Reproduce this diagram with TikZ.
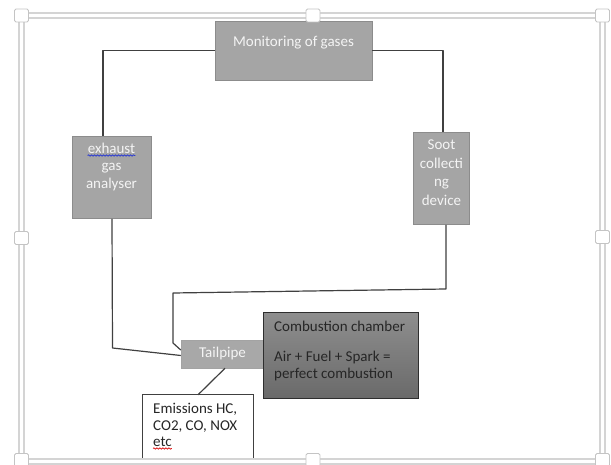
\documentclass[tikz,border=0pt]{standalone}
\usepackage{fontspec}
\setmainfont{Carlito}
\usetikzlibrary{calc,decorations.pathmorphing}
\definecolor{boxgray}{HTML}{A5A5A5}
\definecolor{boxedge}{HTML}{8C8C8C}
\definecolor{tailgray}{HTML}{A8A8A8}
\definecolor{wirecol}{HTML}{404040}
\definecolor{framegray}{HTML}{D4D4D4}
\definecolor{handleedge}{HTML}{C4C4C4}
\definecolor{combtop}{HTML}{8E8E8E}
\definecolor{combbot}{HTML}{6A6A6A}
\definecolor{combedge}{HTML}{2E2E2E}
\definecolor{textwhite}{HTML}{F4F4F4}
\definecolor{textdark}{HTML}{262626}
\definecolor{spellblue}{HTML}{2F3FD0}
\definecolor{spellred}{HTML}{E02020}
\begin{document}
\begin{tikzpicture}[x=1pt,y=-1pt,
  graybox/.style={draw=boxedge, line width=0.8pt, fill=boxgray, inner sep=0pt},
  wtext/.style={text=textwhite, font=\fontsize{15}{18}\selectfont, inner sep=0pt, anchor=base},
  btext/.style={text=textdark, font=\fontsize{15}{18}\selectfont, inner sep=0pt, anchor=base west},
  wire/.style={draw=wirecol, line width=1.2pt, line join=round},
  handle/.style={draw=handleedge, fill=white, line width=0.9pt, rounded corners=1.5pt, minimum width=14pt, minimum height=13pt, inner sep=0pt},
  squig/.style={decorate, decoration={snake, amplitude=0.7pt, segment length=3pt}, line width=0.8pt}
]
\useasboundingbox (0,0) rectangle (611,465);
\fill[white] (0,0) rectangle (611,465);

% boxes
\node[graybox, minimum width=157pt, minimum height=59pt] (mon) at (293.5,50.5) {};
\node[graybox, minimum width=79pt, minimum height=82pt] (ex) at (112,177.5) {};
\node[graybox, minimum width=56pt, minimum height=92pt] (soot) at (441.5,178.5) {};
\node[fill=tailgray, draw=boxedge!80, line width=0.5pt, minimum width=82pt, minimum height=28pt, inner sep=0pt] (tail) at (222,354) {};
\node[draw=combedge, line width=1pt, top color=combtop, bottom color=combbot, minimum width=155pt, minimum height=85pt, inner sep=0pt] (comb) at (341,355.5) {};
\node[fill=white, minimum width=110pt, minimum height=64pt, inner sep=0pt] (emi) at (198,427) {};
\draw[draw=wirecol, line width=1.2pt] (emi.south west) -- (emi.north west) -- (emi.north east) -- (emi.south east);

% connectors
\coordinate (exbend) at (112.5,348);
\coordinate (sootbend) at (446,289);
\coordinate (tailbendA) at (173,293);
\coordinate (tailbendB) at (173,343);
\draw[wire] (mon.west) -| ($(ex.north)+(-9,0)$);
\draw[wire] (mon.east) -| ($(soot.north)+(1.5,0)$);
\draw[wire] (ex.south) -- (exbend) -- ($(tail.west)+(0,1.5)$);
\draw[wire] ($(soot.south)+(4.5,0)$) -- (sootbend) -- (tailbendA) -- (tailbendB) -- ($(tail.west)+(0,-4)$);
\draw[wire] ($(tail.south)+(3,0)$) -- (emi.north);

% texts
\node[wtext] (monT) at (293.5,47) {Monitoring of gases};
\node[wtext] (ex1) at (111.5,153.5) {exhaust};
\node[wtext] (ex2) at (111.5,171) {gas};
\node[wtext] (ex3) at (111.5,189) {analyser};
\draw[squig, spellblue] ($(ex1.base west)+(0,2)$) -- ($(ex1.base east)+(0,2)$);
\node[wtext] (soot1) at (441.5,150) {Soot};
\node[wtext] (soot2) at (441.5,168.5) {collecti};
\node[wtext] (soot3) at (441.5,187) {ng};
\node[wtext] (soot4) at (441.5,205.5) {device};
\node[wtext] (tailT) at (222.5,357) {Tailpipe};
\node[btext] (comb1) at (274,332) {Combustion chamber};
\node[btext] (comb2) at (274,362) {Air + Fuel + Spark =};
\node[btext] (comb3) at (274,378) {perfect combustion};
\node[btext] (emi1) at (153,413) {Emissions HC,};
\node[btext] (emi2) at (153,430) {CO2, CO, NOX};
\node[btext] (emi3) at (153,446) {etc};
\draw[squig, spellred] ($(emi3.base west)+(0,2.5)$) -- ($(emi3.base east)+(0,2.5)$);

% selection frame
\draw[framegray, line width=1.6pt, double=white, double distance=3pt] (21.5,15.5) rectangle (602.5,461.5);
\foreach \hx/\hy/\hn in {21.5/15.5/hA, 313/15.5/hB, 602.5/15.5/hC, 21.5/238/hD, 602.5/237/hE, 21.5/460/hF, 313/460/hG, 602.5/460/hH}
  \node[handle] (\hn) at (\hx,\hy) {};
\end{tikzpicture}
\end{document}
